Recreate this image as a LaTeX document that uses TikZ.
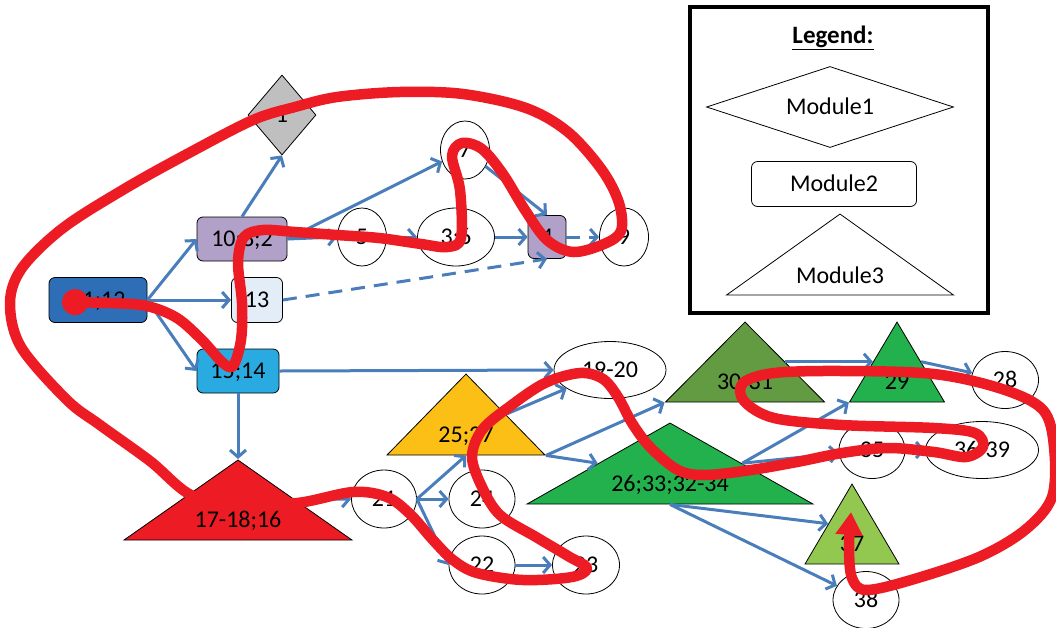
\documentclass[tikz,border=0pt]{standalone}
\usepackage{fontspec}
\setmainfont{Carlito}
\usepackage{tikz}
\usetikzlibrary{shapes,shapes.geometric,arrows,arrows.meta,positioning}

\definecolor{linkblue}{RGB}{74,126,187}
\definecolor{pathred}{RGB}{237,28,36}
\definecolor{boxdark}{RGB}{46,110,182}
\definecolor{boxlilac}{RGB}{177,160,199}
\definecolor{boxpale}{RGB}{227,237,248}
\definecolor{boxsky}{RGB}{41,171,226}
\definecolor{diagrey}{RGB}{191,191,191}
\definecolor{triamber}{RGB}{251,191,22}
\definecolor{triolive}{RGB}{98,155,65}
\definecolor{trigreen}{RGB}{34,177,76}
\definecolor{trilime}{RGB}{146,200,80}

\begin{document}
\begin{tikzpicture}[x=1pt, y=-1pt,
    every node/.style={font=\fontsize{24}{28}\selectfont, text height=15pt, text depth=0pt, inner sep=0pt},
    box/.style={rectangle, rounded corners=6pt, draw=black, line width=0.8pt},
    oval/.style={ellipse, draw=black, line width=0.8pt, fill=white},
    dia/.style={diamond, draw=black, line width=0.8pt},
    tri/.style={isosceles triangle, isosceles triangle stretches, shape border rotate=90, draw=black, line width=0.8pt, anchor=apex},
    link/.style={draw=linkblue, line width=3pt, -{Straight Barb[length=7pt,width=16pt]}},
    dashlink/.style={link, dash pattern=on 14pt off 9pt}]
    \useasboundingbox (0,0) rectangle (1056,627);

    \node[box, fill=boxdark, minimum width=98pt, minimum height=45pt] (n11) at (98,300) {11;12};
    \node[box, fill=boxlilac, minimum width=90pt, minimum height=44pt] (n10) at (242,239) {10;8;2};
    \node[box, fill=boxpale, minimum width=51pt, minimum height=45pt] (n13) at (257,300) {13};
    \node[box, fill=boxsky, minimum width=82pt, minimum height=44pt] (n15) at (238,371) {15;14};
    \node[dia, fill=diagrey, minimum width=68pt, minimum height=80pt] (n1) at (282,115) {1};
    \node[oval, minimum width=49pt, minimum height=58pt] (n7) at (465,150) {7};
    \node[oval, minimum width=49pt, minimum height=58pt] (n5) at (362,237) {5};
    \node[oval, minimum width=77pt, minimum height=58pt] (n36) at (456,237) {3;6};
    \node[box, fill=boxlilac, minimum width=38pt, minimum height=43pt] (n4) at (547,237) {4};
    \node[oval, minimum width=49pt, minimum height=58pt] (n9) at (624,237) {9};

    \node[tri, fill=pathred, minimum width=228pt, minimum height=80pt] (t17) at (238,459) {};
    \node (l17) at (238,520) {17-18;16};
    \node[oval, minimum width=65pt, minimum height=58pt] (n21) at (384,499) {21};
    \node[oval, minimum width=66pt, minimum height=58pt] (n24) at (482,499) {24};
    \node[oval, minimum width=66pt, minimum height=58pt] (n22) at (482,565) {22};
    \node[oval, minimum width=67pt, minimum height=58pt] (n23) at (586,565) {23};
    \node[tri, fill=triamber, minimum width=158pt, minimum height=81pt] (t25) at (466,373) {};
    \node (l25) at (466,435) {25;27};
    \node[oval, minimum width=112pt, minimum height=57pt] (n19) at (610,370) {19-20};
    \node[tri, fill=triolive, minimum width=159pt, minimum height=80pt] (t30) at (745,321) {};
    \node (l30) at (745,382) {30-31};
    \node[tri, fill=trigreen, minimum width=95pt, minimum height=80pt] (t29) at (897,321) {};
    \node (l29) at (897,382) {29};
    \node[oval, minimum width=67pt, minimum height=57pt] (n28) at (1005,380) {28};
    \node[tri, fill=trigreen, minimum width=286pt, minimum height=81pt] (t26) at (670,422) {};
    \node (l26) at (670,484) {26;33;32-34};
    \node[oval, minimum width=66pt, minimum height=57pt] (n35) at (872,450) {35};
    \node[oval, minimum width=113pt, minimum height=57pt] (n39) at (982,450) {36-39};
    \node[tri, fill=trilime, minimum width=94pt, minimum height=80pt] (t37) at (852,483) {};
    \node (l37) at (852,544) {37};
    \node[oval, minimum width=66pt, minimum height=57pt] (n38) at (866,600) {38};

    \draw[link] (n11.east) -- (n10.west);
    \draw[link] (n11.east) -- (n13.west);
    \draw[link] (n11.east) -- (n15.west);
    \draw[link] (n10.north) -- (n1.south);
    \draw[link] (n10.east) -- (n7);
    \draw[link] (n10.east) -- (n5.west);
    \draw[link] (n5) -- (n36);
    \draw[link] (n36) -- (n4);
    \draw[link] (n7) -- (n4.north);
    \draw[dashlink] (n4) -- (n9);
    \draw[dashlink] (n13.east) -- (n4.south);
    \draw[link] (n15.east) -- (n19.west);
    \draw[link] (n15.south) -- (t17.apex);
    \draw[link] (t17.right side) -- (n21.west);
    \draw[link] (n21.east) -- (n24.west);
    \draw[link] (n21.east) -- (t25.lower side);
    \draw[link] (n21.east) -- (n22.west);
    \draw[link] (n22) -- (n23);
    \draw[link] (t25.right side) -- (n19);
    \draw[link] (t25.right corner) -- (t26.left side);
    \draw[link] (t25.right corner) -- (t30.left corner);
    \draw[link] (t30.right side) -- (t29.left side);
    \draw[link] (t29.right side) -- (n28);
    \draw[link] (t26.right side) -- (t29.left corner);
    \draw[link] (t26.right side) -- (n35);
    \draw[link] (n35) -- (n39);
    \draw[link] (t26.lower side) -- (t37.left side);
    \draw[link] (t26.lower side) -- (n38);

    \node[draw=black, line width=3.5pt, minimum width=298pt, minimum height=306pt] (legend) at (839,160) {};
    \node[font=\bfseries\fontsize{25}{29}\selectfont] (ltitle) at (833,36) {\underline{Legend:}};
    \node[dia, aspect=3, minimum width=247pt, minimum height=81pt] (lmod1) at (830,107) {Module1};
    \node[box, minimum width=165pt, minimum height=45pt] (lmod2) at (834,184) {Module2};
    \node[tri, minimum width=227pt, minimum height=81pt] (lmod3) at (840,213) {};
    \node (lmod3t) at (840,276) {Module3};

    \draw[pathred, line width=10.5pt, line cap=round, line join=round,
        {Circle[length=26pt]}-{Triangle[length=23pt,width=26pt]}]
        plot[smooth, tension=0.55] coordinates {
        (62,302) (110,303) (147,306) (177,318) (202,340) (222,362) (233,366)
        (241,340) (242,303) (238,262) (244,237) (263,230) (295,232) (337,235)
        (379,238) (421,244) (447,247) (461,238) (460,190) (452,156) (462,143)
        (482,149) (503,174) (525,210) (547,240) (573,252) (604,244) (621,231)
        (619,203) (602,170) (568,132) (526,108) (463,94) (400,92) (337,97)
        (295,107) (253,120) (189,153) (126,188) (63,228) (22,268) (10,303)
        (21,347) (67,400) (100,425) (150,461) (193,496) (245,502) (297,503)
        (353,492) (387,497) (410,514) (433,540) (453,560) (477,573) (523,580)
        (572,577) (587,568) (568,556) (536,537) (500,515) (482,487) (472,457)
        (482,430) (509,407) (545,383) (580,373) (603,379) (618,397) (632,423)
        (650,447) (678,470) (705,475) (751,470) (797,462) (842,453) (888,448)
        (934,452) (966,457) (983,447) (975,433) (934,428) (842,425) (774,418)
        (744,401) (743,383) (774,373) (842,371) (934,374) (1002,389) (1043,410)
        (1054,447) (1052,497) (1025,530) (979,557) (911,580) (866,590) (852,578)
        (849,548) (851,512)};
\end{tikzpicture}
\end{document}
